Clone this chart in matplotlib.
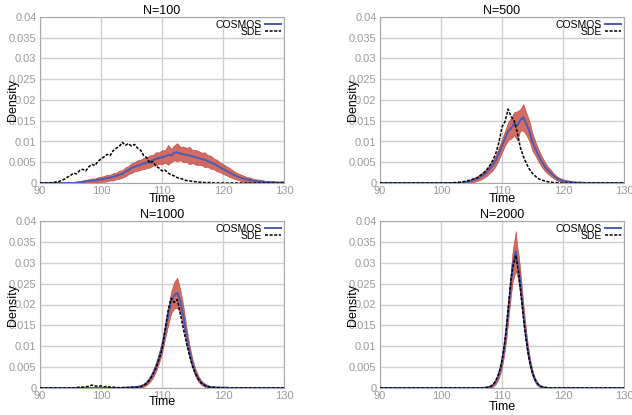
import numpy as np
import matplotlib
matplotlib.use("Agg")
import matplotlib.pyplot as plt

plt.rcParams['font.family'] = ['Liberation Sans', 'DejaVu Sans']

# --------------------------------------------
# data, each series is
# a window start, a bin step and the bin values
# --------------------------------------------
titles = ["N=100", "N=500", "N=1000", "N=2000"]
x_ticks = [90, 100, 110, 120, 130]
y_ticks = [0, 0.005, 0.01, 0.015, 0.02, 0.025, 0.03, 0.035, 0.04]
y_tick_labels = ["0", "0.005", "0.01", "0.015", "0.02", "0.025", "0.03", "0.035", "0.04"]

# N=100
sde100_start, sde100_step = 92.0, 0.5
sde100 = [0.0001, 0.0002, 0.0003, 0.0006, 0.0009, 0.0014, 0.0018, 0.0024, 0.0022, 0.0030,
          0.0033, 0.0029, 0.0039, 0.0045, 0.0042, 0.0052, 0.0058, 0.0063, 0.0069, 0.0066,
          0.0078, 0.0084, 0.0088, 0.0098, 0.0091, 0.0095, 0.0089, 0.0093, 0.0084, 0.0079,
          0.0066, 0.0061, 0.0048, 0.0052, 0.0041, 0.0036, 0.0029, 0.0031, 0.0024, 0.0020,
          0.0017, 0.0013, 0.0011, 0.0009, 0.0006, 0.0005, 0.0004, 0.0003, 0.0002, 0.0002,
          0.0001, 0.0001, 0.0001]
cos100_start, cos100_step = 96.0, 0.5
cos100 = [0.0001, 0.0002, 0.0003, 0.0004, 0.0005, 0.0006, 0.0006, 0.0008,
          0.0009, 0.0010, 0.0012, 0.0013, 0.0015, 0.0017, 0.0020, 0.0022,
          0.0027, 0.0031, 0.0036, 0.0039, 0.0042, 0.0044, 0.0047, 0.0049,
          0.0052, 0.0055, 0.0058, 0.0060, 0.0062, 0.0064, 0.0068, 0.0066,
          0.0073, 0.0074, 0.0071, 0.0069, 0.0068, 0.0066, 0.0064, 0.0062,
          0.0060, 0.0058, 0.0056, 0.0053, 0.0050, 0.0046, 0.0042, 0.0038,
          0.0034, 0.0030, 0.0026, 0.0022, 0.0018, 0.0015, 0.0012, 0.0010,
          0.0008, 0.0007, 0.0005, 0.0004, 0.0004, 0.0003, 0.0002, 0.0002,
          0.0002, 0.0001, 0.0001, 0.0001, 0.0001]
cos100_err = [0.0002, 0.0003, 0.0003, 0.0004, 0.0004, 0.0005, 0.0005, 0.0006,
              0.0006, 0.0007, 0.0008, 0.0007, 0.0009, 0.0008, 0.0010, 0.0009,
              0.0011, 0.0010, 0.0012, 0.0011, 0.0013, 0.0012, 0.0014, 0.0013,
              0.0015, 0.0013, 0.0016, 0.0014, 0.0017, 0.0015, 0.0024, 0.0016,
              0.0018, 0.0022, 0.0016, 0.0019, 0.0017, 0.0021, 0.0016, 0.0018,
              0.0017, 0.0015, 0.0018, 0.0014, 0.0016, 0.0013, 0.0014, 0.0012,
              0.0012, 0.0011, 0.0011, 0.0010, 0.0009, 0.0008, 0.0008, 0.0007,
              0.0006, 0.0006, 0.0005, 0.0005, 0.0004, 0.0004, 0.0003, 0.0003,
              0.0003, 0.0003, 0.0002, 0.0003, 0.0002]

# N=500
sde500_start, sde500_step = 102.0, 0.5
sde500 = [0.0001, 0.0001, 0.0002, 0.0003, 0.0004, 0.0006, 0.0008, 0.0011, 0.0013, 0.0019,
          0.0024, 0.0032, 0.0042, 0.0055, 0.0072, 0.0098, 0.0135, 0.0148, 0.0178, 0.0160,
          0.0150, 0.0122, 0.0086, 0.0064, 0.0047, 0.0033, 0.0023, 0.0016, 0.0010, 0.0007,
          0.0005, 0.0003, 0.0002, 0.0001, 0.0001]
cos500_start, cos500_step = 104.0, 0.5
cos500 = [0.0002, 0.0003, 0.0005, 0.0008, 0.0011, 0.0015, 0.0020, 0.0026,
          0.0034, 0.0043, 0.0055, 0.0072, 0.0090, 0.0108, 0.0125, 0.0132,
          0.0143, 0.0138, 0.0152, 0.0158, 0.0142, 0.0125, 0.0098, 0.0082,
          0.0066, 0.0052, 0.0040, 0.0031, 0.0024, 0.0017, 0.0011, 0.0008,
          0.0005, 0.0004, 0.0003, 0.0002, 0.0001, 0.0001, 0.0001, 0.0, 0.0]
cos500_err = [0.0002, 0.0003, 0.0004, 0.0005, 0.0006, 0.0007, 0.0008, 0.0009,
              0.0010, 0.0012, 0.0013, 0.0015, 0.0016, 0.0018, 0.0022, 0.0025,
              0.0028, 0.0035, 0.0026, 0.0032, 0.0027, 0.0024, 0.0021, 0.0017,
              0.0015, 0.0013, 0.0011, 0.0009, 0.0008, 0.0006, 0.0005, 0.0004,
              0.0004, 0.0003, 0.0003, 0.0002, 0.0002, 0.0001, 0.0001, 0.0001, 0.0001]

# N=1000
sde1000_start, sde1000_step = 96.0, 0.5
sde1000 = [0.0001, 0.0002, 0.0002, 0.0003, 0.0004, 0.0007, 0.0005, 0.0004, 0.0005, 0.0003,
           0.0004, 0.0002, 0.0002, 0.0001, 0.0001, 0.0001, 0.0001, 0.0001, 0.0001, 0.0001,
           0.0002, 0.0003, 0.0006, 0.0011, 0.0020, 0.0032, 0.0048, 0.0068, 0.0092, 0.0138,
           0.0185, 0.0215, 0.0205, 0.0212, 0.0178, 0.0142, 0.0108, 0.0078, 0.0052, 0.0034,
           0.0020, 0.0011, 0.0006, 0.0003, 0.0002, 0.0001, 0.0001, 0.0001, 0.0]
cos1000_start, cos1000_step = 104.0, 0.5
cos1000 = [0.0001, 0.0001, 0.0002, 0.0002, 0.0003, 0.0004, 0.0007, 0.0012,
           0.0021, 0.0033, 0.0050, 0.0072, 0.0098, 0.0135, 0.0172, 0.0205,
           0.0222, 0.0228, 0.0208, 0.0172, 0.0128, 0.0088, 0.0058, 0.0036,
           0.0021, 0.0012, 0.0007, 0.0004, 0.0002, 0.0002, 0.0001, 0.0001,
           0.0001, 0.0001, 0.0, 0.0, 0.0]
cos1000_err = [0.0001, 0.0001, 0.0002, 0.0002, 0.0002, 0.0003, 0.0004, 0.0005,
               0.0007, 0.0009, 0.0011, 0.0013, 0.0015, 0.0018, 0.0022, 0.0026,
               0.0032, 0.0036, 0.0028, 0.0024, 0.0019, 0.0015, 0.0011, 0.0009,
               0.0007, 0.0005, 0.0004, 0.0003, 0.0002, 0.0002, 0.0001, 0.0001,
               0.0001, 0.0001, 0.0001, 0.0001, 0.0001]

# N=2000
sde2000_start, sde2000_step = 107.0, 0.25
sde2000 = [0.0, 0.0001, 0.0001, 0.0002, 0.0003, 0.0005, 0.0008, 0.0012, 0.0018, 0.0026,
           0.0036, 0.0049, 0.0066, 0.0088, 0.0115, 0.0148, 0.0188, 0.0225, 0.0262, 0.0288,
           0.0302, 0.0318, 0.0296, 0.0272, 0.0240, 0.0205, 0.0170, 0.0138, 0.0112, 0.0086,
           0.0066, 0.0049, 0.0036, 0.0026, 0.0018, 0.0012, 0.0008, 0.0005, 0.0003, 0.0002,
           0.0001, 0.0001, 0.0, 0.0, 0.0]
cos2000_start, cos2000_step = 107.0, 0.25
cos2000 = [0.0, 0.0001, 0.0001, 0.0002, 0.0003, 0.0004, 0.0007, 0.0011,
           0.0016, 0.0024, 0.0034, 0.0047, 0.0064, 0.0086, 0.0112, 0.0145,
           0.0182, 0.0220, 0.0258, 0.0292, 0.0310, 0.0328, 0.0305, 0.0282,
           0.0252, 0.0215, 0.0180, 0.0146, 0.0116, 0.0090, 0.0068, 0.0050,
           0.0036, 0.0025, 0.0017, 0.0011, 0.0007, 0.0004, 0.0003, 0.0002,
           0.0001, 0.0001, 0.0, 0.0, 0.0]
cos2000_err = [0.0001, 0.0001, 0.0001, 0.0002, 0.0002, 0.0003, 0.0004, 0.0005,
               0.0006, 0.0008, 0.0010, 0.0012, 0.0014, 0.0016, 0.0019, 0.0022,
               0.0025, 0.0028, 0.0032, 0.0038, 0.0042, 0.0048, 0.0036, 0.0034,
               0.0030, 0.0026, 0.0022, 0.0019, 0.0016, 0.0013, 0.0011, 0.0009,
               0.0007, 0.0006, 0.0005, 0.0004, 0.0003, 0.0002, 0.0002, 0.0001,
               0.0001, 0.0001, 0.0001, 0.0001, 0.0001]

panels = [
    (sde100_start, sde100_step, sde100, cos100_start, cos100_step, cos100, cos100_err),
    (sde500_start, sde500_step, sde500, cos500_start, cos500_step, cos500, cos500_err),
    (sde1000_start, sde1000_step, sde1000, cos1000_start, cos1000_step, cos1000, cos1000_err),
    (sde2000_start, sde2000_step, sde2000, cos2000_start, cos2000_step, cos2000, cos2000_err),
]


def pad(start, step, vals, lo=90.0, hi=130.0):
    # put the window of bins on the full 90..130 range, zero elsewhere
    x = np.arange(lo, hi + step / 2, step)
    y = np.zeros_like(x)
    i0 = int(round((start - lo) / step))
    y[i0:i0 + len(vals)] = vals
    return x, y


# --------------------------------------------
# figure
# --------------------------------------------
fig = plt.figure(figsize=(6.32, 4.15), dpi=100)
W, H = 632.0, 415.0
boxes = [(40, 17, 284, 183), (380, 17, 624, 183),
         (40, 221, 284, 388), (380, 221, 624, 388)]
xlabel_y = [-0.06, -0.06, -0.05, -0.078]

band_col = "#c9493c"
line_col = "#4a5bb5"
grid_col = "#cfcfcf"
tick_col = "#9a9a9a"

for k, (box, title, p) in enumerate(zip(boxes, titles, panels)):
    l, t, r, b = box
    ax = fig.add_axes([l / W, 1 - b / H, (r - l) / W, (b - t) / H])
    s_start, s_step, s_vals, c_start, c_step, c_vals, c_err = p

    xs, ys = pad(s_start, s_step, s_vals)
    xc, yc = pad(c_start, c_step, c_vals)
    _, ec = pad(c_start, c_step, c_err)

    ax.fill_between(xc, np.clip(yc - ec, 0, None), yc + ec, color=band_col,
                    alpha=0.8, lw=0.4, edgecolor="#b02a20", zorder=2)
    ax.plot(xc, yc, color=line_col, lw=1.4, label="COSMOS", zorder=3)
    ax.plot(xs, ys, color="black", lw=1.1, ls=(0, (2, 1)), label="SDE", zorder=4)

    ax.set_xlim(90, 130)
    ax.set_ylim(0, 0.04)
    ax.set_xticks(x_ticks)
    ax.set_yticks(y_ticks)
    ax.set_yticklabels(y_tick_labels)
    ax.tick_params(length=0, labelsize=8, labelcolor=tick_col, pad=2.5)
    ax.grid(True, color=grid_col, lw=1)
    ax.set_axisbelow(True)
    for sp in ax.spines.values():
        sp.set_color("#a8a8a8")
        sp.set_linewidth(0.8)

    ax.set_title(title, fontsize=9, pad=2)
    ax.set_xlabel("Time", fontsize=9, labelpad=0)
    ax.xaxis.set_label_coords(0.5, xlabel_y[k])
    ax.set_ylabel("Density", fontsize=9)
    ax.yaxis.set_label_coords(-0.085, 0.5)

    ax.legend(loc="upper right", frameon=False, markerfirst=False, fontsize=7.5,
              handlelength=1.6, handletextpad=0.3, labelspacing=-0.25,
              borderaxespad=0.15, borderpad=0.1)

fig.savefig("out.png", dpi=100)
